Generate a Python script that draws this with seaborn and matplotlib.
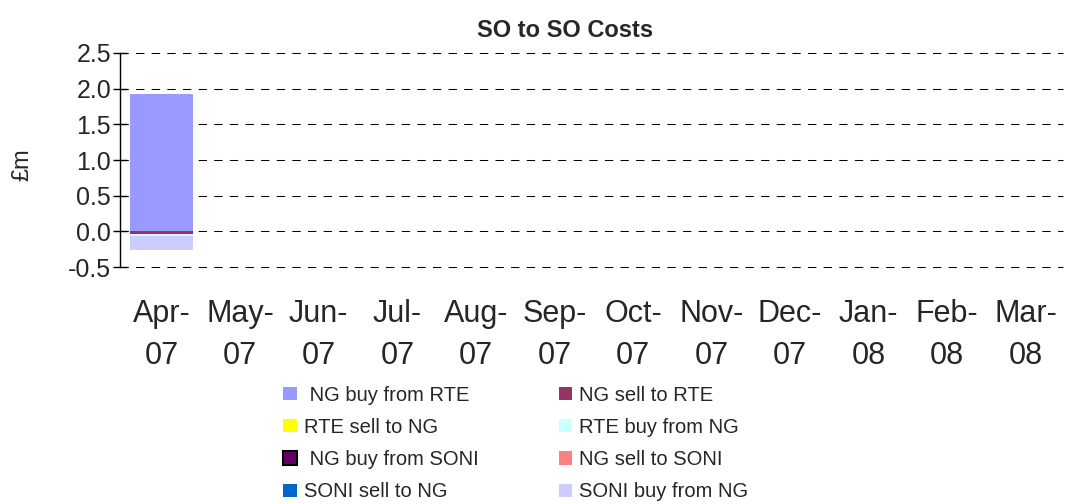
import numpy as np
import pandas as pd

import matplotlib
matplotlib.use('Agg')

import matplotlib.pyplot as plt
import seaborn as sns
from matplotlib.patches import Patch


# =========================================================
# DATA
# =========================================================

MONTHS = ['Apr-\n07', 'May-\n07', 'Jun-\n07', 'Jul-\n07', 'Aug-\n07', 'Sep-\n07',
          'Oct-\n07', 'Nov-\n07', 'Dec-\n07', 'Jan-\n08', 'Feb-\n08', 'Mar-\n08']

SERIES = ['NG buy from RTE', 'NG sell to RTE', 'RTE sell to NG', 'RTE buy from NG',
          'NG buy from SONI', 'NG sell to SONI', 'SONI sell to NG', 'SONI buy from NG']

# legend text as shown (two entries carry a leading space)
LEGEND_LABELS = [' NG buy from RTE', 'NG sell to RTE', 'RTE sell to NG', 'RTE buy from NG',
                 ' NG buy from SONI', 'NG sell to SONI', 'SONI sell to NG', 'SONI buy from NG']

ng_buy_rte = [1.92, 0, 0, 0, 0, 0, 0, 0, 0, 0, 0, 0]
ng_sell_rte = [-0.038, 0, 0, 0, 0, 0, 0, 0, 0, 0, 0, 0]
rte_sell_ng = [0, 0, 0, 0, 0, 0, 0, 0, 0, 0, 0, 0]
rte_buy_ng = [-0.028, 0, 0, 0, 0, 0, 0, 0, 0, 0, 0, 0]
ng_buy_soni = [0, 0, 0, 0, 0, 0, 0, 0, 0, 0, 0, 0]
ng_sell_soni = [0, 0, 0, 0, 0, 0, 0, 0, 0, 0, 0, 0]
soni_sell_ng = [0, 0, 0, 0, 0, 0, 0, 0, 0, 0, 0, 0]
soni_buy_ng = [-0.196, 0, 0, 0, 0, 0, 0, 0, 0, 0, 0, 0]

COLORS = ['#9999FF', '#993366', '#FFFF00', '#CCFFFF',
          '#660066', '#FF8080', '#0066CC', '#CCCCFF']

values = np.array([ng_buy_rte, ng_sell_rte, rte_sell_ng, rte_buy_ng,
                   ng_buy_soni, ng_sell_soni, soni_sell_ng, soni_buy_ng])


# =========================================================
# STACKED TOTALS (positive up, negative down)
# =========================================================

pos_cum = np.cumsum(np.clip(values, 0, None), axis=0)
neg_cum = np.cumsum(np.clip(values, None, 0), axis=0)


# =========================================================
# FIGURE
# =========================================================

sns.set_theme(style="white")
plt.rcParams['font.family'] = ['Liberation Sans', 'DejaVu Sans']

fig = plt.figure(figsize=(10.82, 5.04), dpi=100)
ax = fig.add_axes([0.111, 0.470, 0.871, 0.425])

# draw from last series to first so earlier segments sit on top
for i in reversed(range(len(SERIES))):
    if not np.any(values[i] != 0):
        continue
    for cum in (pos_cum, neg_cum):
        df = pd.DataFrame({'month': MONTHS, 'value': cum[i]})
        sns.barplot(
            data=df, x='month', y='value',
            color=COLORS[i], saturation=1, width=0.8,
            linewidth=0, ax=ax, errorbar=None
        )

ax.set_ylim(-0.5, 2.5)
yticks = np.arange(-0.5, 2.51, 0.5)
ax.set_yticks(yticks)
ax.set_yticklabels([f"{v:.1f}" for v in yticks])
ax.set_xlim(-0.53, 11.47)

for y in yticks:
    ax.axhline(y, color='black', linestyle=(0, (8, 7)), linewidth=0.75,
               zorder=0, clip_on=False)

for s in ['top', 'right', 'bottom']:
    ax.spines[s].set_visible(False)
ax.spines['left'].set_color('black')
ax.spines['left'].set_linewidth(1)

ax.tick_params(axis='y', direction='inout', length=10, width=1,
               color='black', labelsize=18, pad=1.5, left=True)
ax.tick_params(axis='x', length=0, labelsize=22, pad=23)
for lab in ax.get_xticklabels():
    lab.set_linespacing(1.5)

ax.set_xlabel('')
ax.set_ylabel('£m', fontsize=17)
ax.yaxis.set_label_coords(-0.092, 0.48)

fig.text(0.522, 0.94, 'SO to SO Costs', fontsize=17, fontweight='bold',
         ha='center', va='center')


# =========================================================
# LEGEND (row-wise order across two columns)
# =========================================================

handles = []
for i, name in enumerate(SERIES):
    edge = 'black' if name == 'NG buy from SONI' else COLORS[i]
    handles.append(Patch(facecolor=COLORS[i], edgecolor=edge,
                         linewidth=1.5 if edge == 'black' else 0, label=name))

order = [0, 2, 4, 6, 1, 3, 5, 7]
leg = fig.legend(
    [handles[k] for k in order], [LEGEND_LABELS[k] for k in order],
    ncol=2, loc='upper left', bbox_to_anchor=(0.262, 0.235),
    frameon=False, fontsize=14.5, handlelength=0.65, handleheight=0.65,
    handletextpad=0.35, columnspacing=4.0, labelspacing=0.66,
    borderaxespad=0, borderpad=0
)

fig.savefig('out.png', dpi=100)
plt.close()
